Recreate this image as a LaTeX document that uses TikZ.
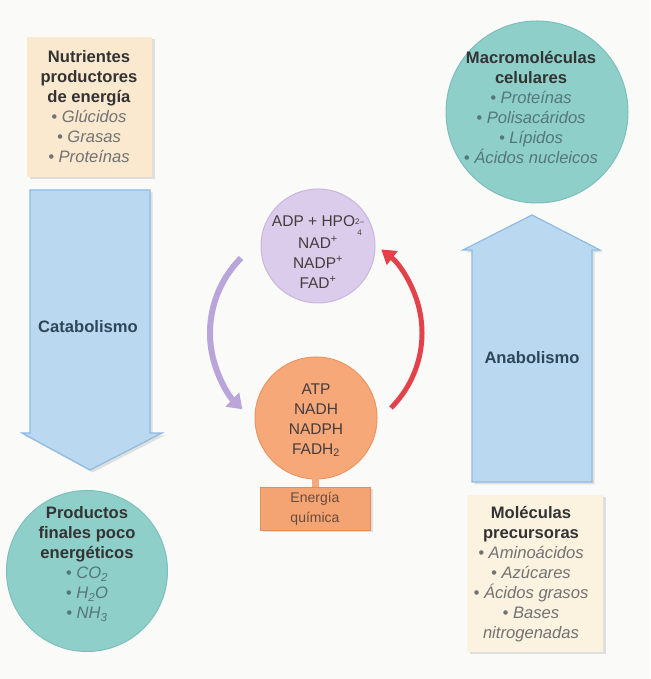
\documentclass[tikz,border=0pt]{standalone}
\usepackage{fontspec}
\setmainfont{Liberation Sans}
\usetikzlibrary{arrows.meta,shadows,calc}
\definecolor{bgc}{HTML}{FAFAF8}
\definecolor{beigeA}{HTML}{FAE9CF}
\definecolor{beigeB}{HTML}{FBF2E0}
\definecolor{tealc}{HTML}{8ECFCA}
\definecolor{tealrim}{HTML}{7DBFBA}
\definecolor{bluef}{HTML}{BBD8F1}
\definecolor{blued}{HTML}{8DBBE3}
\definecolor{purf}{HTML}{DCCCEB}
\definecolor{purd}{HTML}{C9B5DE}
\definecolor{orf}{HTML}{F6A878}
\definecolor{ord}{HTML}{EE9462}
\definecolor{boxf}{HTML}{F4A472}
\definecolor{boxd}{HTML}{E48C5C}
\definecolor{parc}{HTML}{B9A5D9}
\definecolor{rarc}{HTML}{E2424A}
\definecolor{headc}{HTML}{333333}
\definecolor{itemc}{HTML}{727272}
\definecolor{citemc}{HTML}{55767D}
\definecolor{catc}{HTML}{2D4659}
\definecolor{ctrc}{HTML}{463C3C}
\definecolor{enc}{HTML}{6A4B3B}
\newcommand{\itm}[1]{{\itshape\color{itemc}\textbullet\ #1}}
\newcommand{\citm}[1]{{\itshape\color{citemc}\textbullet\ #1}}
\begin{document}
\begin{tikzpicture}[x=1pt,y=1pt,
  txt/.style={align=center,font=\fontsize{16.6}{20}\selectfont,text=headc,inner sep=0pt},
  ctxt/.style={align=center,font=\fontsize{15.5}{20}\selectfont,text=ctrc,inner sep=0pt},
  shd/.style={drop shadow={shadow xshift=2.5pt,shadow yshift=-2.5pt,opacity=0.22,fill=gray}},
  sqbox/.style={rectangle,inner sep=0pt,shd},
  blob/.style={circle,inner sep=0pt,fill=tealc,draw=tealrim,line width=1pt},
  blockarrow/.style={fill=bluef,draw=blued,line width=1.2pt,shd},
  parrow/.style={draw=parc,line width=6pt,-{Triangle[width=19pt,length=14pt]}},
  rarrow/.style={draw=rarc,line width=5pt,-{Triangle[width=17pt,length=14pt]}}
]
\useasboundingbox (0,0) rectangle (650,679);
\fill[bgc] (0,0) rectangle (650,679);

% top-left box
\node[sqbox,fill=beigeA,minimum width=125,minimum height=140] (nut) at (89.5,572) {};
\node[txt] (nutt) at (89,572) {\textbf{Nutrientes}\\\textbf{productores}\\\textbf{de energía}\\\itm{Glúcidos}\\\itm{Grasas}\\\itm{Proteínas}};

% catabolism arrow
\draw[blockarrow] (30,489) -- (150,489) -- (150,246) -- (162,246) -- (90,209) -- (22,246) -- (30,246) -- cycle;
\node[txt,text=catc] (cat) at (88,352) {\textbf{Catabolismo}};

% bottom-left circle
\node[blob,minimum size=161] (prod) at (87,108) {};
\node[txt] (prodt) at (87,115) {\textbf{Productos}\\\textbf{finales poco}\\\textbf{energéticos}\\\citm{CO\textsubscript{2}}\\\citm{H\textsubscript{2}O}\\\citm{NH\textsubscript{3}}};

% top-right circle
\node[blob,minimum size=182] (macro) at (537,567) {};
\node[txt] (macrot) at (531,571.5) {\textbf{Macromoléculas}\\\textbf{celulares}\\\citm{Proteínas}\\\citm{Polisacáridos}\\\citm{Lípidos}\\\citm{Ácidos nucleicos}};

% anabolism arrow
\draw[blockarrow] (472,197) -- (592,197) -- (592,429) -- (600,429) -- (532,464) -- (463,429) -- (472,429) -- cycle;
\node[txt,text=catc] (ana) at (532,321) {\textbf{Anabolismo}};

% bottom-right box
\node[sqbox,fill=beigeB,minimum width=136,minimum height=157] (mol) at (535,105.5) {};
\node[txt] (molt) at (531,105) {\textbf{Moléculas}\\\textbf{precursoras}\\\itm{Aminoácidos}\\\itm{Azúcares}\\\itm{Ácidos grasos}\\\itm{Bases}\\{\itshape\color{itemc}nitrogenadas}};

% centre cycle
\node[circle,inner sep=0pt,minimum size=114,fill=purf,draw=purd,line width=1pt] (adp) at (318,433) {};
\node[ctxt] (adpt) at (318,427) {ADP + HPO\raisebox{-1.1ex}{\fontsize{8}{8}\selectfont\shortstack{2--\\[2.5pt]4}}\\NAD\textsuperscript{+}\\NADP\textsuperscript{+}\\FAD\textsuperscript{+}};
\node[circle,inner sep=0pt,minimum size=122,fill=orf,draw=ord,line width=1pt] (atp) at (316,261) {};
\node[ctxt] (atpt) at (316,259) {ATP\\NADH\\NADPH\\FADH\textsubscript{2}};
\node[sqbox,fill=boxf,draw=boxd,line width=0.8pt,minimum width=110,minimum height=43] (ener) at (315,170.5) {};
\node[align=center,font=\fontsize{14}{20}\selectfont,text=enc,inner sep=0pt] (enert) at (315,170.5) {Energía\\química};
\fill[orf] ($(atp.south)+(-4,2)$) rectangle ($(ener.north)+(4,0)$);

\coordinate (cyc) at (316,346);
\coordinate (ps) at ($(cyc)+(135:106)$);
\coordinate (rs) at ($(cyc)+(-45:106)$);
\draw[parrow] (ps) arc[start angle=135,end angle=226,radius=106];
\draw[rarrow] (rs) arc[start angle=-45,end angle=52,radius=106];
\end{tikzpicture}
\end{document}
